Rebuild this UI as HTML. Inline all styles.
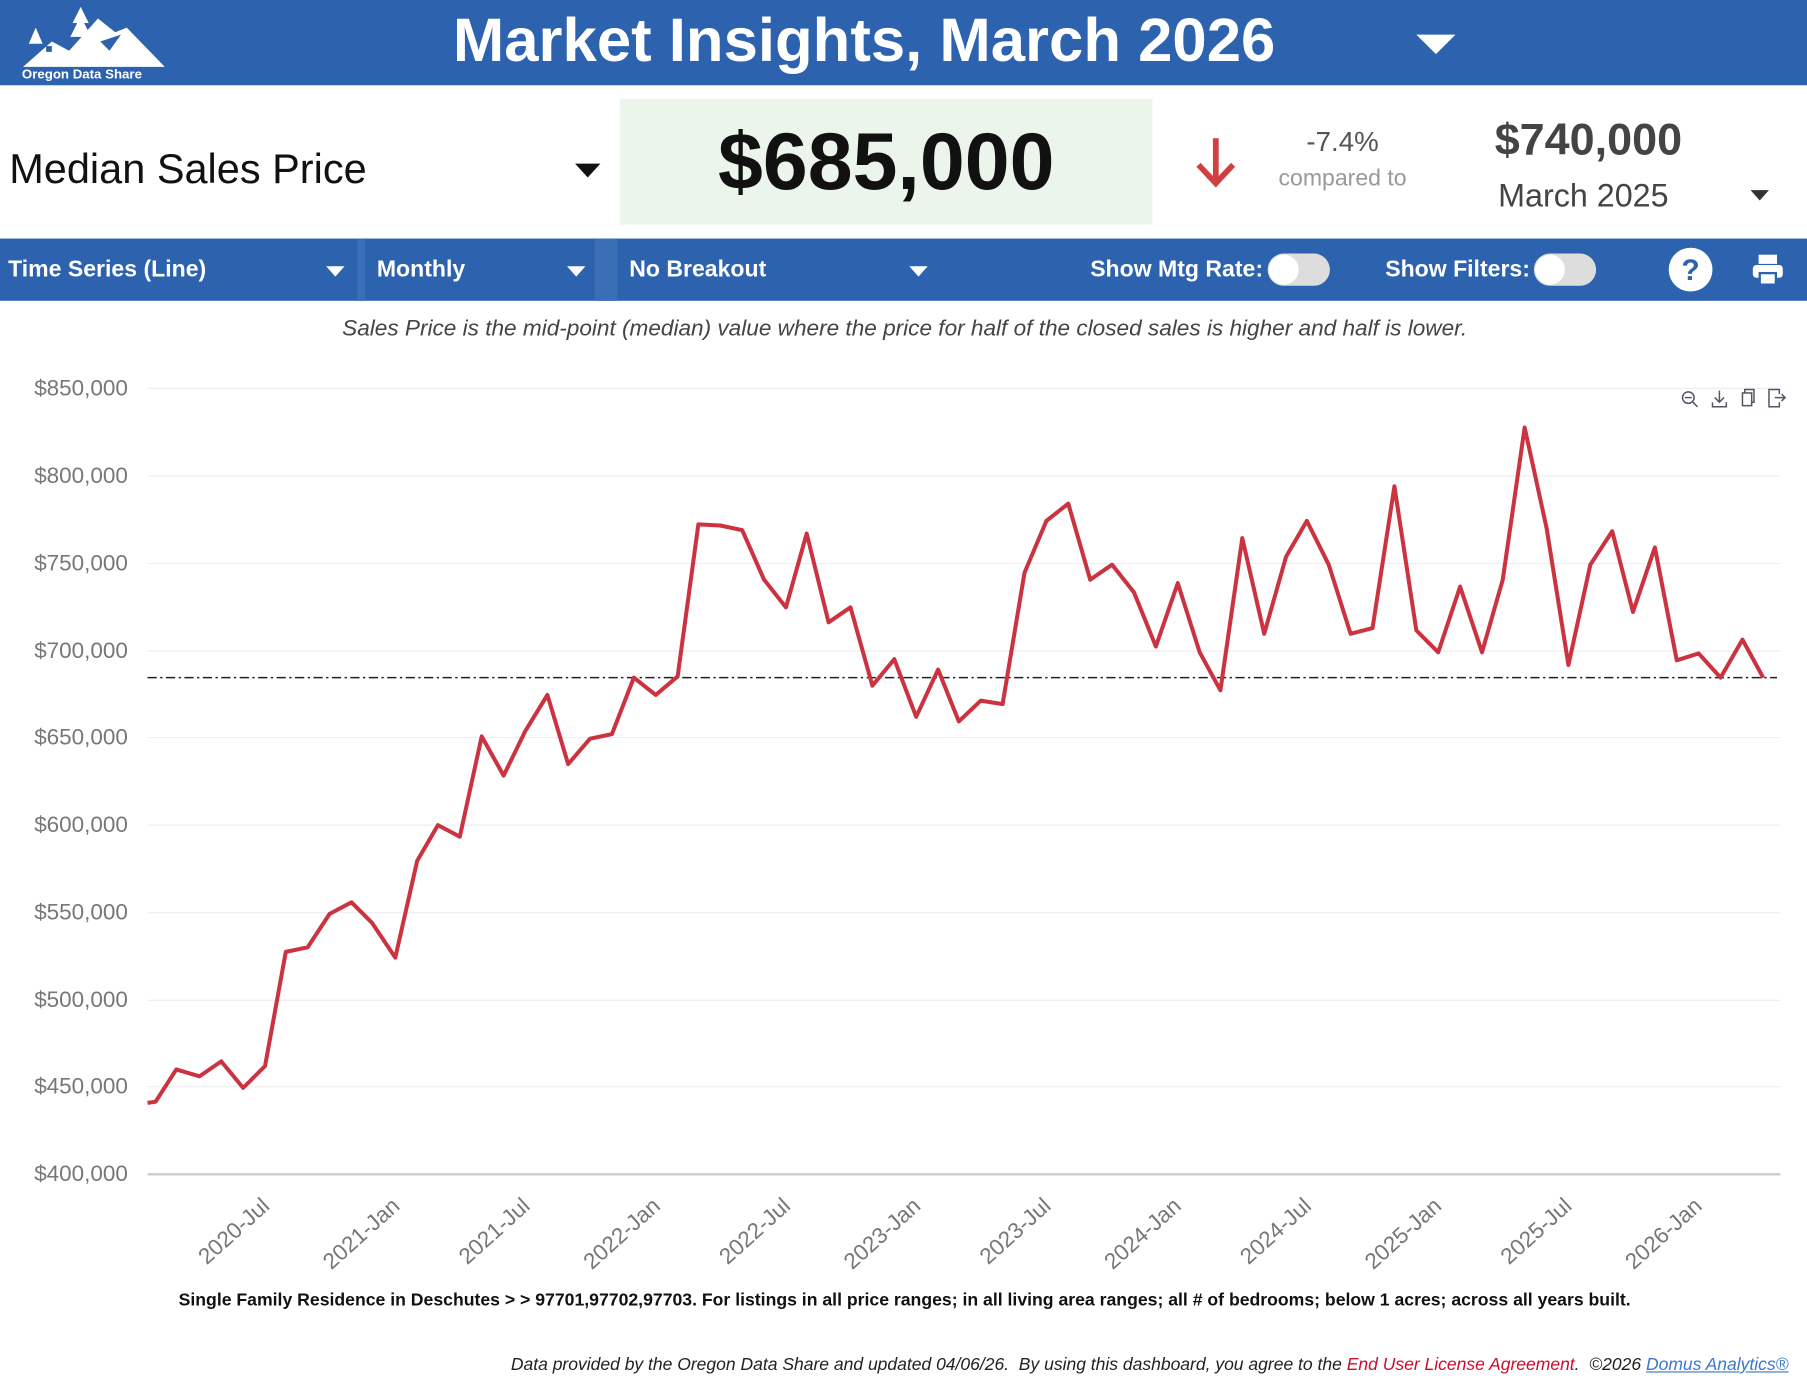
<!DOCTYPE html>
<html><head><meta charset="utf-8"><style>
html,body{margin:0;padding:0;background:#fff;overflow:hidden;width:1807px;height:1390px}
#w{position:absolute;left:0;top:0;width:1568px;height:1206px;transform:scale(1.15242);transform-origin:0 0;font-family:"Liberation Sans",sans-serif}
.a{position:absolute;white-space:nowrap}
.tri{position:absolute;width:0;height:0;border-left:8px solid transparent;border-right:8px solid transparent}
</style></head><body><div id="w">
<div class="a" style="left:0;top:0;width:1568px;height:74px;background:#2c62ae"></div>
<svg class="a" style="left:15px;top:6px" width="135" height="60" viewBox="0 0 135 60">
<path d="M5 52 L30 30 L45 38 L70 10 L85 22 L95 18 L128 52 Z" fill="#fff"/>
<path d="M55 0 L62 14 L58 14 L64 26 L46 26 L52 14 L48 14 Z" fill="#fff"/>
<path d="M16 18 L22 32 L10 32 Z" fill="#fff"/>
<rect x="25" y="34" width="5" height="5" fill="#2c62ae"/>
<path d="M72 30 L90 24 L80 38 Z" fill="#2c62ae"/>
</svg>
<div class="a" style="left:19px;top:59px;font-size:11.5px;font-weight:bold;color:#fff">Oregon Data Share</div>
<div class="a" style="left:393px;top:5px;font-size:53.5px;color:#fff;font-weight:bold">Market Insights, March 2026</div>
<div class="tri" style="left:1229px;top:30px;border-left-width:17px;border-right-width:17px;border-top:17px solid #fff"></div>

<div class="a" style="left:8px;top:126px;font-size:36px;color:#111">Median Sales Price</div>
<div class="tri" style="left:499px;top:142px;border-left-width:11px;border-right-width:11px;border-top:12px solid #111"></div>
<div class="a" style="left:538px;top:86px;width:462px;height:109px;background:#ecf5ec"></div>
<div class="a" style="left:538px;top:100px;width:462px;text-align:center;font-size:70px;font-weight:bold;color:#111">$685,000</div>
<svg class="a" style="left:1035px;top:118px" width="40" height="46"><path d="M20 2 V40 M5 25 L20 41 L35 25" stroke="#d04040" stroke-width="5" fill="none"/></svg>
<div class="a" style="left:1100px;top:110px;width:130px;text-align:center;font-size:24px;color:#555">-7.4%</div>
<div class="a" style="left:1100px;top:144px;width:130px;text-align:center;font-size:20px;color:#999">compared to</div>
<div class="a" style="left:1297px;top:100px;font-size:39px;font-weight:bold;color:#444">$740,000</div>
<div class="a" style="left:1300px;top:154px;font-size:28px;color:#444">March 2025</div>
<div class="tri" style="left:1519px;top:165px;border-top:9px solid #333"></div>

<div class="a" style="left:0;top:207px;width:1568px;height:54px;background:#2c62ae"></div>
<div class="a" style="left:310px;top:207px;width:7px;height:54px;background:#3a6eb6"></div>
<div class="a" style="left:516px;top:207px;width:20px;height:54px;background:#3a6eb6"></div>
<div class="a" style="left:7px;top:223px;font-size:20px;font-weight:bold;color:#fff">Time Series (Line)</div>
<div class="tri" style="left:283px;top:231px;border-top:9px solid #fff"></div>
<div class="a" style="left:327px;top:223px;font-size:20px;font-weight:bold;color:#fff">Monthly</div>
<div class="tri" style="left:492px;top:231px;border-top:9px solid #fff"></div>
<div class="a" style="left:546px;top:223px;font-size:20px;font-weight:bold;color:#fff">No Breakout</div>
<div class="tri" style="left:789px;top:231px;border-top:9px solid #fff"></div>
<div class="a" style="left:946px;top:223px;font-size:20px;font-weight:bold;color:#fff">Show Mtg Rate:</div>
<div class="a" style="left:1100px;top:220px;width:54px;height:28px;border-radius:14px;background:#ddd"></div>
<div class="a" style="left:1101px;top:221px;width:26px;height:26px;border-radius:13px;background:#fff"></div>
<div class="a" style="left:1202px;top:223px;font-size:20px;font-weight:bold;color:#fff">Show Filters:</div>
<div class="a" style="left:1331px;top:220px;width:54px;height:28px;border-radius:14px;background:#ddd"></div>
<div class="a" style="left:1332px;top:221px;width:26px;height:26px;border-radius:13px;background:#fff"></div>
<div class="a" style="left:1448px;top:215px;width:38px;height:38px;border-radius:19px;background:#fff;color:#2c62ae;font-size:26px;font-weight:bold;text-align:center;line-height:38px">?</div>
<svg class="a" style="left:1519px;top:219px" width="30" height="30"><rect x="7" y="2" width="16" height="8" fill="#fff"/><rect x="2" y="11" width="26" height="11" rx="3" fill="#fff"/><rect x="8" y="18" width="14" height="10" fill="#fff" stroke="#2c62ae" stroke-width="2"/></svg>

<div class="a" style="left:0;top:274px;width:1570px;text-align:center;font-size:19.6px;font-style:italic;color:#444">Sales Price is the mid-point (median) value where the price for half of the closed sales is higher and half is lower.</div>

<svg class="a" style="left:0;top:0" width="1568" height="1206" font-family="Liberation Sans, sans-serif">
<g stroke="#eee" stroke-width="1">
<line x1="128" x2="1545" y1="337" y2="337"/><line x1="128" x2="1545" y1="413" y2="413"/><line x1="128" x2="1545" y1="489" y2="489"/><line x1="128" x2="1545" y1="565" y2="565"/><line x1="128" x2="1545" y1="640" y2="640"/><line x1="128" x2="1545" y1="716" y2="716"/><line x1="128" x2="1545" y1="792" y2="792"/><line x1="128" x2="1545" y1="868" y2="868"/><line x1="128" x2="1545" y1="943" y2="943"/>
</g>
<line x1="128" x2="1545" y1="1019" y2="1019" stroke="#ccc" stroke-width="2"/>
<g font-size="19.5" fill="#777" text-anchor="end">
<text x="111" y="343">$850,000</text><text x="111" y="419">$800,000</text><text x="111" y="495">$750,000</text><text x="111" y="571">$700,000</text><text x="111" y="646">$650,000</text><text x="111" y="722">$600,000</text><text x="111" y="798">$550,000</text><text x="111" y="874">$500,000</text><text x="111" y="949">$450,000</text><text x="111" y="1025">$400,000</text>
</g>
<line x1="128" x2="1542" y1="588" y2="588" stroke="#222" stroke-width="1.3" stroke-dasharray="8,3,2,3"/>
<polyline fill="none" stroke="#cc3340" stroke-width="3.5" stroke-linejoin="round" points="128,957 135,956 153,928 173,934 192,921 211,944 230,925 248,826 267,822 286,793 305,783 323,801 343,831 362,747 380,716 399,726 418,639 437,673 456,634 475,603 493,663 512,641 531,637 550,588 569,603 588,587 606,455 625,456 644,460 663,503 682,527 700,463 719,540 738,527 757,595 776,572 795,622 814,581 832,626 851,608 870,611 889,497 908,452 927,437 946,503 965,490 984,514 1003,561 1022,506 1041,566 1059,599 1078,467 1097,550 1116,483 1134,452 1153,490 1172,550 1191,545 1210,422 1229,547 1248,566 1267,509 1286,566 1304,503 1323,371 1342,458 1361,577 1380,490 1399,461 1417,531 1436,475 1455,573 1474,567 1493,588 1512,555 1530,588"/>
<g font-size="19.5" fill="#777" text-anchor="end">
<text transform="translate(235,1048) rotate(-42)">2020-Jul</text>
<text transform="translate(348,1048) rotate(-42)">2021-Jan</text>
<text transform="translate(461,1048) rotate(-42)">2021-Jul</text>
<text transform="translate(574,1048) rotate(-42)">2022-Jan</text>
<text transform="translate(687,1048) rotate(-42)">2022-Jul</text>
<text transform="translate(800,1048) rotate(-42)">2023-Jan</text>
<text transform="translate(913,1048) rotate(-42)">2023-Jul</text>
<text transform="translate(1026,1048) rotate(-42)">2024-Jan</text>
<text transform="translate(1139,1048) rotate(-42)">2024-Jul</text>
<text transform="translate(1252,1048) rotate(-42)">2025-Jan</text>
<text transform="translate(1365,1048) rotate(-42)">2025-Jul</text>
<text transform="translate(1478,1048) rotate(-42)">2026-Jan</text>
</g>
<g stroke="#556" stroke-width="1.3" fill="none">
<circle cx="1465" cy="345" r="5"/><line x1="1469" y1="349" x2="1473" y2="353"/><line x1="1462" y1="345" x2="1468" y2="345"/>
<path d="M1492 339 V349 M1488 345 L1492 349 L1496 345 M1486 349 V353 H1498 V349"/>
<rect x="1512" y="341" width="8" height="11"/><path d="M1514 341 V338 H1522 V349 H1520"/>
<path d="M1544 342 V338 H1535 V353 H1544 V349 M1540 345 H1549 M1546 342 L1549 345 L1546 348"/>
</g>
</svg>

<div class="a" style="left:0;top:1120px;width:1570px;text-align:center;font-size:15.3px;font-weight:bold;color:#111">Single Family Residence in Deschutes &gt; &gt; 97701,97702,97703. For listings in all price ranges; in all living area ranges; all # of bedrooms; below 1 acres; across all years built.</div>
<div class="a" style="right:16px;top:1176px;font-size:15.2px;font-style:italic;color:#222">Data provided by the Oregon Data Share and updated 04/06/26.&nbsp; By using this dashboard, you agree to the <span style="color:#c8102e">End User License Agreement</span>.&nbsp; ©2026 <span style="color:#3a78d0;text-decoration:underline">Domus Analytics®</span></div>
</div></body></html>
